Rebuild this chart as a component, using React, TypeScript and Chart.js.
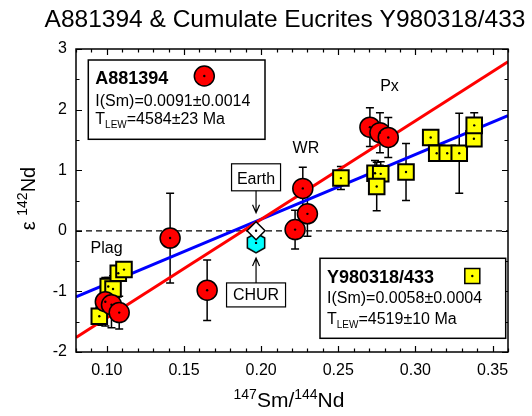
import React, { useEffect, useRef } from 'react';
import { Chart, registerables } from 'chart.js';

Chart.register(...registerables);

const FONT = "'Liberation Sans', Arial, Helvetica, sans-serif";

// Axes
const X_MIN = 0.08;
const X_MAX = 0.36;
const Y_MIN = -2;
const Y_MAX = 3;
const xTickValues = [0.1, 0.15, 0.2, 0.25, 0.3, 0.35];
const xTickLabels = ['0.10', '0.15', '0.20', '0.25', '0.30', '0.35'];
const yTickValues = [-2, -1, 0, 1, 2, 3];
const yTickLabels = ['-2', '-1', '0', '1', '2', '3'];
const xMinorStep = 0.01;
const yMinorStep = 0.5;

// A881394 (red circles)
const redX = [0.099, 0.103, 0.108, 0.141, 0.165, 0.222, 0.227, 0.230, 0.2705, 0.277, 0.2824];
const redY = [-1.17, -1.22, -1.35, -0.12, -0.98, 0.02, 0.70, 0.28, 1.71, 1.62, 1.54];
const redErr = [0.4, 0.38, 0.27, 0.74, 0.5, 0.32, 0.35, 0.37, 0.32, 0.33, 0.33];

// Y980318/433 (yellow squares)
const yelX = [0.0951, 0.1009, 0.104, 0.1074, 0.1111, 0.2517, 0.2738, 0.2775, 0.2749, 0.2939, 0.3099, 0.3138, 0.3206, 0.3284, 0.3379, 0.3381];
const yelY = [-1.41, -0.92, -0.96, -0.70, -0.64, 0.87, 0.95, 0.94, 0.73, 0.97, 1.54, 1.28, 1.28, 1.28, 1.52, 1.74];
const yelErr = [0.15, 0.15, 0.22, 0.12, 0.1, 0.19, 0.21, 0.2, 0.4, 0.47, 0.1, 0.1, 0.12, 0.66, 0.08, 0.21];

// Reference points
const earthX = [0.1967];
const earthY = [0.0];
const churX = [0.1967];
const churY = [-0.2];

// Isochron lines
const redLineX = [0.08, 0.36];
const redLineY = [-1.76, 2.79];
const blueLineX = [0.08, 0.36];
const blueLineY = [-1.09, 1.9];
const zeroLineX = [0.08, 0.36];
const zeroLineY = [0, 0];

// Text labels on plot (baseline positions in data units)
const textLabels = ['Plag', 'WR', 'Px'];
const textLabelX = [0.0998, 0.229, 0.2832];
const textLabelY = [-0.37, 1.28, 2.307];

const TITLE = 'A881394 & Cumulate Eucrites Y980318/433';
const legendA = { name: 'A881394', ism: 'I(Sm)=0.0091±0.0014', age: '=4584±23 Ma' };
const legendY = { name: 'Y980318/433', ism: 'I(Sm)=0.0058±0.0004', age: '=4519±10 Ma' };

type Part = { t: string; size: number; bold?: boolean; dy?: number };

function font(p: Part) {
  return `${p.bold ? 'bold ' : ''}${p.size}px ${FONT}`;
}

function drawParts(ctx: CanvasRenderingContext2D, x: number, y: number, parts: Part[], align: 'left' | 'center' = 'left') {
  let total = 0;
  for (const p of parts) {
    ctx.font = font(p);
    total += ctx.measureText(p.t).width;
  }
  let cx = align === 'center' ? x - total / 2 : x;
  ctx.textAlign = 'left';
  ctx.textBaseline = 'alphabetic';
  for (const p of parts) {
    ctx.font = font(p);
    ctx.fillText(p.t, cx, y + (p.dy || 0));
    cx += ctx.measureText(p.t).width;
  }
}

function makeHex(): HTMLCanvasElement {
  const c = document.createElement('canvas');
  c.width = 24;
  c.height = 24;
  const g = c.getContext('2d')!;
  g.beginPath();
  for (let i = 0; i < 6; i++) {
    const a = (-90 + 60 * i) * Math.PI / 180;
    const px = 12 + 10 * Math.cos(a);
    const py = 12 + 10 * Math.sin(a);
    if (i === 0) g.moveTo(px, py); else g.lineTo(px, py);
  }
  g.closePath();
  g.fillStyle = '#00ffff';
  g.fill();
  g.lineWidth = 1.5;
  g.strokeStyle = '#000';
  g.stroke();
  return c;
}

function arrow(ctx: CanvasRenderingContext2D, x: number, y0: number, y1: number) {
  const dir = y1 > y0 ? 1 : -1;
  ctx.beginPath();
  ctx.moveTo(x, y0);
  ctx.lineTo(x, y1);
  ctx.moveTo(x - 3.5, y1 - dir * 8);
  ctx.lineTo(x, y1);
  ctx.lineTo(x + 3.5, y1 - dir * 8);
  ctx.stroke();
}

function boxedText(ctx: CanvasRenderingContext2D, cx: number, top: number, w: number, h: number, text: string) {
  ctx.fillStyle = '#fff';
  ctx.fillRect(cx - w / 2, top, w, h);
  ctx.strokeRect(cx - w / 2, top, w, h);
  ctx.fillStyle = '#000';
  drawParts(ctx, cx, top + h - 6.5, [{ t: text, size: 16 }], 'center');
}

const overlayPlugin = {
  id: 'overlay',
  beforeDatasetsDraw(chart: any) {
    const { ctx, scales } = chart;
    const x = scales.x;
    const y = scales.y;
    ctx.save();
    ctx.strokeStyle = '#000';
    ctx.lineWidth = 1.5;
    const cap = 4;
    const draw = (xs: number[], ys: number[], es: number[]) => {
      for (let i = 0; i < xs.length; i++) {
        const px = x.getPixelForValue(xs[i]);
        const t = y.getPixelForValue(ys[i] + es[i]);
        const b = y.getPixelForValue(ys[i] - es[i]);
        ctx.beginPath();
        ctx.moveTo(px, t);
        ctx.lineTo(px, b);
        ctx.moveTo(px - cap, t);
        ctx.lineTo(px + cap, t);
        ctx.moveTo(px - cap, b);
        ctx.lineTo(px + cap, b);
        ctx.stroke();
      }
    };
    draw(yelX, yelY, yelErr);
    draw(redX, redY, redErr);
    ctx.restore();
  },
  afterDatasetsDraw(chart: any) {
    const { ctx, chartArea: a, scales } = chart;
    const x = scales.x;
    const y = scales.y;
    ctx.save();
    // frame
    ctx.strokeStyle = '#000';
    ctx.lineWidth = 1.5;
    ctx.strokeRect(a.left, a.top, a.right - a.left, a.bottom - a.top);
    // ticks
    ctx.lineWidth = 1.2;
    ctx.beginPath();
    for (let v = X_MIN; v <= X_MAX + 1e-9; v += xMinorStep) {
      const vv = Math.round(v * 1000) / 1000;
      const major = xTickValues.some((m) => Math.abs(m - vv) < 1e-6);
      const len = major ? 6 : 3.5;
      const px = Math.round(x.getPixelForValue(vv)) + 0.5;
      ctx.moveTo(px, a.bottom);
      ctx.lineTo(px, a.bottom - len);
      ctx.moveTo(px, a.top);
      ctx.lineTo(px, a.top + len);
    }
    for (let v = Y_MIN; v <= Y_MAX + 1e-9; v += yMinorStep) {
      const major = yTickValues.some((m) => Math.abs(m - v) < 1e-6);
      const len = major ? 6 : 3.5;
      const py = Math.round(y.getPixelForValue(v)) + 0.5;
      ctx.moveTo(a.left, py);
      ctx.lineTo(a.left + len, py);
      ctx.moveTo(a.right, py);
      ctx.lineTo(a.right - len, py);
    }
    ctx.stroke();

    // text labels
    ctx.fillStyle = '#000';
    for (let i = 0; i < textLabels.length; i++) {
      drawParts(ctx, x.getPixelForValue(textLabelX[i]), y.getPixelForValue(textLabelY[i]), [{ t: textLabels[i], size: 16 }], 'center');
    }

    // Earth & CHUR callouts
    ctx.lineWidth = 1.2;
    ctx.strokeStyle = '#000';
    const ex = x.getPixelForValue(earthX[0]);
    const ey = y.getPixelForValue(earthY[0]);
    boxedText(ctx, ex, ey - 67, 49, 27, 'Earth');
    arrow(ctx, ex, ey - 40, ey - 18);
    const cx = x.getPixelForValue(churX[0]);
    const cy = y.getPixelForValue(churY[0]);
    boxedText(ctx, cx, cy + 40, 59, 24, 'CHUR');
    arrow(ctx, cx, cy + 40, cy + 15);

    // Legend box A881394
    ctx.lineWidth = 1.5;
    const b1x = a.left + 12.3, b1y = a.top + 11, b1w = 176.7, b1h = 79.3;
    ctx.fillStyle = '#fff';
    ctx.fillRect(b1x, b1y, b1w, b1h);
    ctx.strokeRect(b1x, b1y, b1w, b1h);
    ctx.fillStyle = '#000';
    drawParts(ctx, b1x + 7, b1y + 24, [{ t: legendA.name, size: 18, bold: true }]);
    drawParts(ctx, b1x + 7, b1y + 45.5, [{ t: legendA.ism, size: 16 }]);
    drawParts(ctx, b1x + 7, b1y + 63.5, [{ t: 'T', size: 16 }, { t: 'LEW', size: 10, dy: 4 }, { t: legendA.age, size: 16 }]);
    ctx.beginPath();
    ctx.arc(b1x + 116, b1y + 16, 10, 0, Math.PI * 2);
    ctx.fillStyle = '#ff0000';
    ctx.fill();
    ctx.lineWidth = 1.5;
    ctx.stroke();
    ctx.fillStyle = '#000';
    ctx.beginPath();
    ctx.arc(b1x + 116, b1y + 16, 1.2, 0, Math.PI * 2);
    ctx.fill();

    // Legend box Y980318/433
    const b2w = 185.7, b2h = 80;
    const b2x = a.right - 2.3 - b2w, b2y = a.bottom - 13.7 - b2h;
    ctx.fillStyle = '#fff';
    ctx.fillRect(b2x, b2y, b2w, b2h);
    ctx.strokeRect(b2x, b2y, b2w, b2h);
    ctx.fillStyle = '#000';
    drawParts(ctx, b2x + 7, b2y + 25, [{ t: legendY.name, size: 18, bold: true }]);
    drawParts(ctx, b2x + 7, b2y + 45, [{ t: legendY.ism, size: 16 }]);
    drawParts(ctx, b2x + 7, b2y + 65.7, [{ t: 'T', size: 16 }, { t: 'LEW', size: 10, dy: 4 }, { t: legendY.age, size: 16 }]);
    ctx.fillStyle = '#ffff00';
    ctx.fillRect(b2x + 144.8, b2y + 10.2, 15, 15);
    ctx.strokeRect(b2x + 144.8, b2y + 10.2, 15, 15);
    ctx.fillStyle = '#000';
    ctx.beginPath();
    ctx.arc(b2x + 152.3, b2y + 17.7, 1.2, 0, Math.PI * 2);
    ctx.fill();
    ctx.restore();
  },
  afterDraw(chart: any) {
    const { ctx, chartArea: a } = chart;
    ctx.save();
    ctx.fillStyle = '#000';
    // title
    drawParts(ctx, 285, 27, [{ t: TITLE, size: 24.5 }], 'center');
    // x title
    drawParts(ctx, (a.left + a.right) / 2 - 3, 407, [
      { t: '147', size: 14, dy: -8 },
      { t: 'Sm/', size: 21 },
      { t: '144', size: 14, dy: -8 },
      { t: 'Nd', size: 21 },
    ], 'center');
    // y title
    ctx.translate(34.5, 198.5);
    ctx.rotate(-Math.PI / 2);
    drawParts(ctx, 0, 0, [
      { t: 'ε', size: 20 },
      { t: ' ', size: 20 },
      { t: '142', size: 14, dy: -8 },
      { t: 'Nd', size: 20 },
    ], 'center');
    ctx.restore();
  },
};

export default function App() {
  const ref = useRef<HTMLCanvasElement | null>(null);
  useEffect(() => {
    document.body.style.margin = '0';
    const canvas = ref.current!;
    const hex = makeHex();
    const pts = (xs: number[], ys: number[]) => xs.map((v, i) => ({ x: v, y: ys[i] }));
    const chart = new Chart(canvas, {
      type: 'scatter',
      data: {
        datasets: [
          {
            label: 'dots',
            data: [...pts(redX, redY), ...pts(yelX, yelY), ...pts(earthX, earthY), ...pts(churX, churY)],
            pointStyle: 'circle',
            pointRadius: 1.2,
            backgroundColor: '#000',
            borderWidth: 0,
          },
          {
            label: 'A881394',
            data: pts(redX, redY),
            pointStyle: 'circle',
            pointRadius: 10,
            backgroundColor: '#ff0000',
            borderColor: '#000',
            borderWidth: 1.5,
          },
          {
            label: 'Y980318/433',
            data: pts(yelX, yelY),
            pointStyle: 'rect',
            pointRadius: 11,
            backgroundColor: '#ffff00',
            borderColor: '#000',
            borderWidth: 2,
          },
          {
            label: 'Earth',
            data: pts(earthX, earthY),
            pointStyle: 'rectRot',
            pointRadius: 9,
            backgroundColor: '#ffffff',
            borderColor: '#000',
            borderWidth: 1.5,
          },
          {
            label: 'CHUR',
            data: pts(churX, churY),
            pointStyle: hex as any,
            pointRadius: 10,
          },
          {
            label: 'red isochron',
            data: pts(redLineX, redLineY),
            showLine: true,
            borderColor: '#ff0000',
            borderWidth: 3,
            pointRadius: 0,
          },
          {
            label: 'blue isochron',
            data: pts(blueLineX, blueLineY),
            showLine: true,
            borderColor: '#0000ff',
            borderWidth: 3,
            pointRadius: 0,
          },
          {
            label: 'zero',
            data: pts(zeroLineX, zeroLineY),
            showLine: true,
            borderColor: '#000',
            borderWidth: 1.2,
            borderDash: [6, 4],
            pointRadius: 0,
          },
        ],
      },
      options: {
        responsive: false,
        animation: false,
        layout: { padding: { left: 0, top: 49, right: 24, bottom: 0 } },
        plugins: { legend: { display: false }, tooltip: { enabled: false }, title: { display: false } },
        events: [],
        scales: {
          x: {
            type: 'linear',
            min: X_MIN,
            max: X_MAX,
            grid: { display: false, drawTicks: false },
            border: { display: false },
            afterBuildTicks: (s: any) => {
              s.ticks = xTickValues.map((v) => ({ value: v }));
            },
            afterFit: (s: any) => {
              s.height = 64;
            },
            ticks: {
              autoSkip: false,
              maxRotation: 0,
              padding: 9,
              color: '#000',
              font: { size: 16, family: FONT },
              callback: (_v: any, i: number) => xTickLabels[i],
            },
          },
          y: {
            type: 'linear',
            min: Y_MIN,
            max: Y_MAX,
            grid: { display: false, drawTicks: false },
            border: { display: false },
            afterBuildTicks: (s: any) => {
              s.ticks = yTickValues.map((v) => ({ value: v }));
            },
            afterFit: (s: any) => {
              s.width = 76;
            },
            ticks: {
              autoSkip: false,
              padding: 9,
              color: '#000',
              font: { size: 16, family: FONT },
              callback: (_v: any, i: number) => yTickLabels[i],
            },
          },
        },
      },
      plugins: [overlayPlugin],
    });
    return () => chart.destroy();
  }, []);
  return <canvas ref={ref} width={532} height={416} style={{ display: 'block' }} />;
}
